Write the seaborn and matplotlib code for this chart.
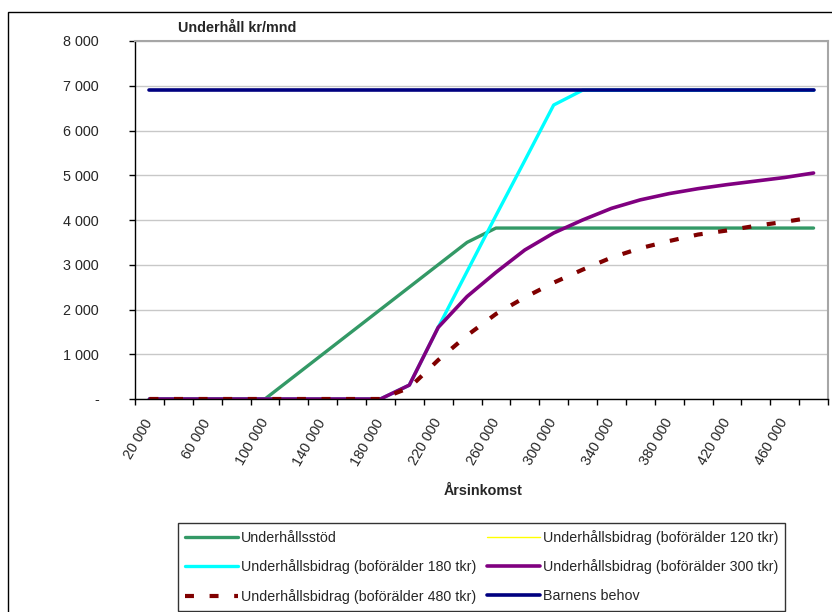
import matplotlib
matplotlib.use("Agg")
import matplotlib.pyplot as plt
import seaborn as sns
import pandas as pd
from matplotlib.patches import Rectangle
from matplotlib.ticker import FuncFormatter

# ----------------------
# Data (kr/mnd per årsinkomst)
# ----------------------
income = list(range(20000, 480001, 20000))

stod = [0, 0, 0, 0, 0, 500, 1000, 1500, 2000, 2500, 3000, 3500,
        3820, 3820, 3820, 3820, 3820, 3820, 3820, 3820, 3820, 3820, 3820, 3820]
bidrag_120 = [0, 0, 0, 0, 0, 0, 0, 0, 0, 310, 1600, 2850,
              4100, 5330, 6570, 6900, 6900, 6900, 6900, 6900, 6900, 6900, 6900, 6900]
bidrag_180 = [0, 0, 0, 0, 0, 0, 0, 0, 0, 310, 1600, 2850,
              4100, 5330, 6570, 6900, 6900, 6900, 6900, 6900, 6900, 6900, 6900, 6900]
bidrag_300 = [0, 0, 0, 0, 0, 0, 0, 0, 0, 310, 1600, 2290,
              2830, 3330, 3710, 4000, 4260, 4450, 4590, 4700, 4790, 4870, 4950, 5050]
bidrag_480 = [0, 0, 0, 0, 0, 0, 0, 0, 0, 250, 870, 1420,
              1900, 2270, 2600, 2890, 3160, 3370, 3530, 3675, 3765, 3870, 3960, 4060]
behov = [6900] * 24

labels = ["Underhållsstöd",
          "Underhållsbidrag (boförälder 120 tkr)",
          "Underhållsbidrag (boförälder 180 tkr)",
          "Underhållsbidrag (boförälder 300 tkr)",
          "Underhållsbidrag (boförälder 480 tkr)",
          "Barnens behov"]
series = [stod, bidrag_120, bidrag_180, bidrag_300, bidrag_480, behov]
colors = ["#339966", "#ffff00", "#00ffff", "#800080", "#800000", "#000080"]
widths = [2.4, 1.0, 2.4, 2.6, 3.0, 2.6]
styles = ["-", "-", "-", "-", (0, (2.15, 3.75)), "-"]

sns.set_style("white")
plt.rcParams["font.family"] = ["Liberation Sans", "DejaVu Sans"]

fig = plt.figure(figsize=(8.32, 6.12), dpi=100)
ax = fig.add_axes([135 / 832, 1 - 399 / 612, 693 / 832, 358 / 612])

for lab, vals, c, lw, ls in zip(labels, series, colors, widths, styles):
    df = pd.DataFrame({"income": income, "value": vals})
    sns.lineplot(data=df, x="income", y="value", color=c, lw=lw,
                 linestyle=ls, label=lab, ax=ax, legend=False)

# axes styling
ax.set_xlim(10000, 490000)
ax.set_ylim(0, 8000)
ax.set_xlabel("")
ax.set_ylabel("")
ax.set_yticks(range(0, 8001, 1000))
ax.yaxis.set_major_formatter(FuncFormatter(
    lambda v, p: "-" if v == 0 else f"{v:,.0f}".replace(",", " ")))
ax.set_xticks(range(20000, 480000, 40000))
ax.set_xticks(range(10000, 490001, 20000), minor=True)
ax.xaxis.set_major_formatter(FuncFormatter(lambda v, p: f"{v:,.0f}".replace(",", " ")))
ax.grid(axis="y", color="#c8c8c8", lw=1.0)
ax.set_axisbelow(True)

ax.tick_params(axis="y", length=4, width=1, color="black", pad=22, labelsize=10.4, direction="out", left=True)
ax.tick_params(axis="x", which="major", length=0, pad=15, labelsize=10.4)
ax.tick_params(axis="x", which="minor", length=4, width=1, color="black", direction="out", bottom=True)
for lbl in ax.get_xticklabels():
    lbl.set_rotation(60)
    lbl.set_ha("right")
    lbl.set_va("center")
    lbl.set_rotation_mode("anchor")

for side in ["left", "bottom"]:
    ax.spines[side].set_color("black")
    ax.spines[side].set_linewidth(1.0)
for side in ["top", "right"]:
    ax.spines[side].set_color("#a6a6a6")
    ax.spines[side].set_linewidth(1.5)

# titles
fig.text(178 / 832, 1 - 28 / 612, "Underhåll kr/mnd", ha="left", va="center",
         fontsize=10.4, fontweight="bold")
fig.text(483 / 832, 1 - 491 / 612, "Årsinkomst", ha="center", va="center",
         fontsize=10.4, fontweight="bold")

# legend (row-wise order like the original)
handles = ax.get_lines()
order = [0, 2, 4, 1, 3, 5]
leg = fig.legend([handles[i] for i in order], [labels[i] for i in order],
                 ncol=2, loc="upper left", bbox_to_anchor=(178 / 832, 1 - 523 / 612),
                 frameon=True, fancybox=False, edgecolor="black", fontsize=10.3,
                 handlelength=3.7, handletextpad=0.2, columnspacing=0.75,
                 borderpad=0.5, labelspacing=1.0, borderaxespad=0)
leg.get_frame().set_linewidth(1.0)

# outer chart border
fig.add_artist(Rectangle((8 / 832, -0.2), 1.2, 1 - 12 / 612 + 0.2,
                         transform=fig.transFigure, fill=False,
                         edgecolor="black", lw=1.0))

fig.savefig("out.png", dpi=100)
